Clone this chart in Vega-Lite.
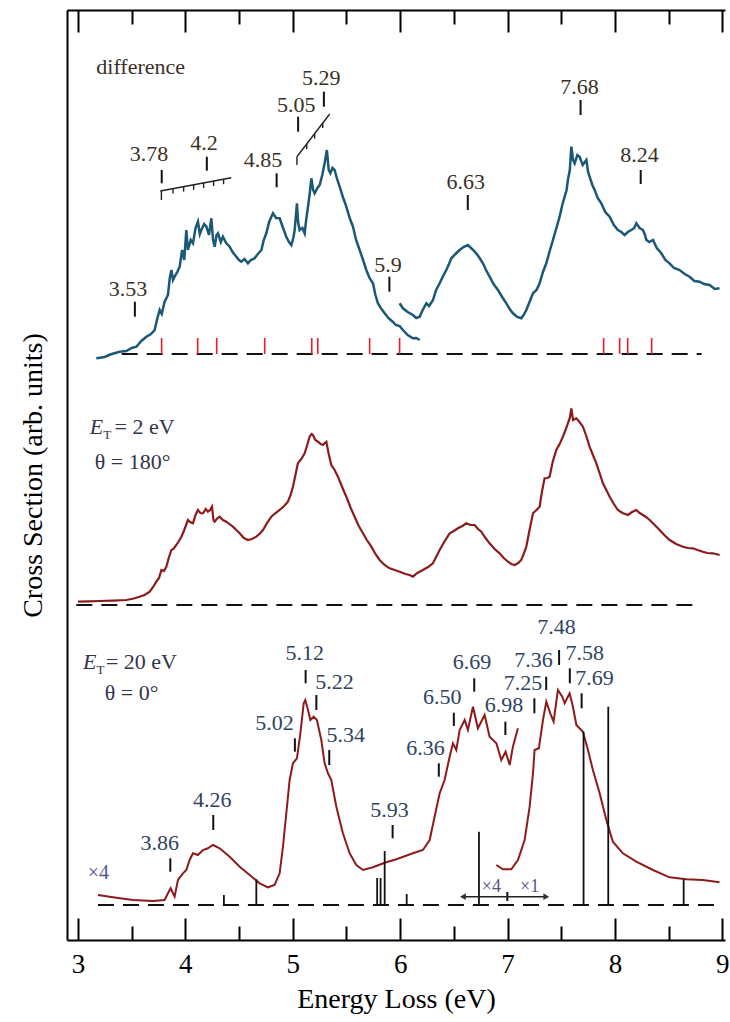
{
  "$schema": "https://vega.github.io/schema/vega-lite/v6.json",
  "width": 658,
  "height": 930,
  "autosize": "none",
  "padding": {"left": 67, "top": 10, "right": 5, "bottom": 82},
  "config": {"view": {"stroke": null}, "font": "'Liberation Serif', 'DejaVu Serif', serif"},
  "datasets": {
    "diff1": [
      {"x":3.171,"y":581.7},{"x":3.25,"y":583},{"x":3.30,"y":585.5},{"x":3.388,"y":588.3},{"x":3.45,"y":589},{"x":3.50,"y":592},{"x":3.544,"y":593.3},{"x":3.59,"y":599},{"x":3.637,"y":603.3},{"x":3.68,"y":606},{"x":3.714,"y":610},{"x":3.74,"y":622},{"x":3.761,"y":630},{"x":3.78,"y":626},{"x":3.807,"y":638.3},{"x":3.838,"y":645},{"x":3.855,"y":662},{"x":3.870,"y":670},{"x":3.885,"y":660},{"x":3.900,"y":663.3},{"x":3.925,"y":668},{"x":3.947,"y":673.3},{"x":3.97,"y":690},{"x":3.99,"y":680},{"x":4.009,"y":710},{"x":4.024,"y":690},{"x":4.05,"y":700},{"x":4.071,"y":696.7},{"x":4.095,"y":712},{"x":4.117,"y":718.3},{"x":4.135,"y":706},{"x":4.149,"y":710},{"x":4.175,"y":716},{"x":4.196,"y":713.3},{"x":4.22,"y":705},{"x":4.242,"y":721.7},{"x":4.258,"y":700},{"x":4.273,"y":693.3},{"x":4.29,"y":705},{"x":4.304,"y":706.7},{"x":4.33,"y":698},{"x":4.350,"y":703.3},{"x":4.38,"y":697},{"x":4.413,"y":693.3},{"x":4.44,"y":688},{"x":4.475,"y":683.3},{"x":4.50,"y":680},{"x":4.521,"y":678.3},{"x":4.55,"y":681},{"x":4.583,"y":676.7},{"x":4.61,"y":680},{"x":4.645,"y":681.7},{"x":4.675,"y":686},{"x":4.708,"y":690},{"x":4.73,"y":700},{"x":4.754,"y":706.7},{"x":4.78,"y":718},{"x":4.816,"y":726.7},{"x":4.845,"y":722},{"x":4.878,"y":721.7},{"x":4.91,"y":712},{"x":4.940,"y":703.3},{"x":4.965,"y":698},{"x":4.987,"y":695},{"x":5.005,"y":702},{"x":5.018,"y":710},{"x":5.03,"y":725},{"x":5.039,"y":736.7},{"x":5.05,"y":718},{"x":5.064,"y":710},{"x":5.09,"y":712},{"x":5.111,"y":706.7},{"x":5.125,"y":720},{"x":5.142,"y":733.3},{"x":5.16,"y":748},{"x":5.173,"y":761.7},{"x":5.19,"y":750},{"x":5.204,"y":746.7},{"x":5.23,"y":752},{"x":5.251,"y":755},{"x":5.275,"y":765},{"x":5.297,"y":776.7},{"x":5.318,"y":790},{"x":5.335,"y":770},{"x":5.350,"y":766.7},{"x":5.37,"y":772},{"x":5.390,"y":770},{"x":5.41,"y":762},{"x":5.437,"y":753.3},{"x":5.47,"y":742},{"x":5.499,"y":733.3},{"x":5.53,"y":722},{"x":5.561,"y":713.3},{"x":5.59,"y":700},{"x":5.623,"y":690},{"x":5.655,"y":680},{"x":5.685,"y":670},{"x":5.715,"y":662},{"x":5.747,"y":656.7},{"x":5.77,"y":645},{"x":5.793,"y":636.7},{"x":5.82,"y":632},{"x":5.856,"y":626.7},{"x":5.89,"y":622},{"x":5.933,"y":618},{"x":5.96,"y":615},{"x":5.995,"y":614},{"x":6.026,"y":610},{"x":6.07,"y":605},{"x":6.119,"y":601.7},{"x":6.15,"y":602},{"x":6.182,"y":600}
    ],
    "diff2": [
      {"x":5.995,"y":636.7},{"x":6.026,"y":631.7},{"x":6.07,"y":628},{"x":6.119,"y":625},{"x":6.15,"y":622},{"x":6.182,"y":623.3},{"x":6.21,"y":630},{"x":6.244,"y":636.7},{"x":6.27,"y":634},{"x":6.306,"y":640},{"x":6.335,"y":650},{"x":6.368,"y":656.7},{"x":6.40,"y":664},{"x":6.430,"y":670},{"x":6.455,"y":676},{"x":6.477,"y":681.7},{"x":6.515,"y":686},{"x":6.554,"y":690},{"x":6.59,"y":693},{"x":6.631,"y":695},{"x":6.67,"y":691},{"x":6.709,"y":686.7},{"x":6.74,"y":682},{"x":6.771,"y":676.7},{"x":6.80,"y":670},{"x":6.833,"y":663.3},{"x":6.87,"y":656},{"x":6.911,"y":650},{"x":6.95,"y":643},{"x":6.989,"y":636.7},{"x":7.02,"y":631},{"x":7.050,"y":626.7},{"x":7.09,"y":623},{"x":7.128,"y":621.7},{"x":7.15,"y":625},{"x":7.175,"y":630},{"x":7.205,"y":638},{"x":7.237,"y":646.7},{"x":7.27,"y":650},{"x":7.299,"y":656.7},{"x":7.33,"y":668},{"x":7.361,"y":676.7},{"x":7.39,"y":688},{"x":7.423,"y":700},{"x":7.455,"y":712},{"x":7.485,"y":723.3},{"x":7.51,"y":735},{"x":7.532,"y":743.3},{"x":7.55,"y":750},{"x":7.562,"y":760},{"x":7.58,"y":770},{"x":7.594,"y":793.3},{"x":7.61,"y":780},{"x":7.625,"y":776.7},{"x":7.65,"y":785},{"x":7.671,"y":783.3},{"x":7.70,"y":775},{"x":7.734,"y":780},{"x":7.75,"y":768},{"x":7.764,"y":763.3},{"x":7.79,"y":755},{"x":7.811,"y":750},{"x":7.84,"y":742},{"x":7.873,"y":736.7},{"x":7.91,"y":728},{"x":7.951,"y":723.3},{"x":7.99,"y":715},{"x":8.028,"y":710},{"x":8.06,"y":708},{"x":8.090,"y":705},{"x":8.12,"y":708},{"x":8.153,"y":710},{"x":8.18,"y":712},{"x":8.199,"y":716.7},{"x":8.23,"y":712},{"x":8.261,"y":710},{"x":8.28,"y":705},{"x":8.293,"y":700},{"x":8.32,"y":698},{"x":8.354,"y":700},{"x":8.39,"y":692},{"x":8.432,"y":686.7},{"x":8.47,"y":680},{"x":8.509,"y":676.7},{"x":8.55,"y":672},{"x":8.602,"y":670},{"x":8.65,"y":666},{"x":8.695,"y":663.3},{"x":8.74,"y":659},{"x":8.788,"y":658.3},{"x":8.83,"y":656},{"x":8.881,"y":655},{"x":8.93,"y":651},{"x":8.974,"y":651.7}
    ],
    "mid": [
      {"x":3.000,"y":338.3},{"x":3.10,"y":338.6},{"x":3.202,"y":339},{"x":3.33,"y":339.4},{"x":3.451,"y":340},{"x":3.52,"y":341.5},{"x":3.574,"y":343.3},{"x":3.62,"y":345},{"x":3.668,"y":348.3},{"x":3.70,"y":353},{"x":3.730,"y":358.3},{"x":3.755,"y":362},{"x":3.777,"y":370},{"x":3.80,"y":369},{"x":3.823,"y":373.3},{"x":3.845,"y":382},{"x":3.870,"y":390},{"x":3.89,"y":391},{"x":3.916,"y":395},{"x":3.94,"y":399},{"x":3.963,"y":403.3},{"x":3.99,"y":410},{"x":4.024,"y":420},{"x":4.045,"y":418},{"x":4.071,"y":416.7},{"x":4.095,"y":425},{"x":4.117,"y":430},{"x":4.14,"y":427},{"x":4.164,"y":426.7},{"x":4.19,"y":431},{"x":4.210,"y":428.3},{"x":4.23,"y":430},{"x":4.248,"y":433.3},{"x":4.262,"y":420},{"x":4.273,"y":418.3},{"x":4.30,"y":422},{"x":4.319,"y":423.3},{"x":4.35,"y":420},{"x":4.382,"y":418.3},{"x":4.41,"y":416},{"x":4.443,"y":413.3},{"x":4.475,"y":410},{"x":4.506,"y":406.7},{"x":4.545,"y":402},{"x":4.583,"y":400},{"x":4.62,"y":401},{"x":4.661,"y":403.3},{"x":4.69,"y":406},{"x":4.723,"y":410},{"x":4.76,"y":417},{"x":4.801,"y":423.3},{"x":4.84,"y":427},{"x":4.878,"y":430},{"x":4.92,"y":434},{"x":4.955,"y":438.3},{"x":4.98,"y":445},{"x":5.002,"y":453.3},{"x":5.025,"y":465},{"x":5.048,"y":476.7},{"x":5.08,"y":481},{"x":5.111,"y":486.7},{"x":5.135,"y":495},{"x":5.157,"y":503.3},{"x":5.175,"y":506},{"x":5.188,"y":505},{"x":5.21,"y":500},{"x":5.235,"y":498.3},{"x":5.26,"y":496},{"x":5.281,"y":495},{"x":5.298,"y":497},{"x":5.313,"y":498.3},{"x":5.335,"y":486},{"x":5.359,"y":475},{"x":5.39,"y":470},{"x":5.421,"y":463.3},{"x":5.46,"y":453},{"x":5.499,"y":443.3},{"x":5.54,"y":432},{"x":5.576,"y":423.3},{"x":5.615,"y":414},{"x":5.654,"y":406.7},{"x":5.69,"y":400},{"x":5.732,"y":393.3},{"x":5.77,"y":386},{"x":5.809,"y":380},{"x":5.855,"y":375},{"x":5.902,"y":371.7},{"x":5.95,"y":370},{"x":5.995,"y":368.3},{"x":6.05,"y":366},{"x":6.088,"y":365},{"x":6.119,"y":363.3},{"x":6.16,"y":367},{"x":6.212,"y":370},{"x":6.26,"y":373},{"x":6.305,"y":376.7},{"x":6.335,"y":383},{"x":6.368,"y":390},{"x":6.41,"y":398},{"x":6.461,"y":406.7},{"x":6.50,"y":409},{"x":6.538,"y":411.7},{"x":6.58,"y":414},{"x":6.616,"y":416.7},{"x":6.655,"y":415},{"x":6.694,"y":415},{"x":6.725,"y":411},{"x":6.756,"y":408.3},{"x":6.795,"y":402},{"x":6.833,"y":396.7},{"x":6.88,"y":391},{"x":6.926,"y":386.7},{"x":6.965,"y":382},{"x":7.004,"y":378.3},{"x":7.035,"y":376},{"x":7.066,"y":375},{"x":7.10,"y":377},{"x":7.128,"y":380},{"x":7.15,"y":386},{"x":7.175,"y":393.3},{"x":7.205,"y":410},{"x":7.237,"y":426.7},{"x":7.27,"y":430},{"x":7.299,"y":433.3},{"x":7.32,"y":448},{"x":7.345,"y":461.7},{"x":7.37,"y":462},{"x":7.392,"y":463.3},{"x":7.42,"y":478},{"x":7.454,"y":490},{"x":7.49,"y":497},{"x":7.516,"y":503.3},{"x":7.54,"y":510},{"x":7.562,"y":516.7},{"x":7.58,"y":522},{"x":7.594,"y":531.7},{"x":7.61,"y":520},{"x":7.640,"y":521.7},{"x":7.67,"y":518},{"x":7.702,"y":513.3},{"x":7.73,"y":505},{"x":7.764,"y":493.3},{"x":7.795,"y":485},{"x":7.827,"y":476.7},{"x":7.86,"y":466},{"x":7.888,"y":456.7},{"x":7.92,"y":450},{"x":7.951,"y":443.3},{"x":7.99,"y":436},{"x":8.028,"y":430},{"x":8.07,"y":427},{"x":8.121,"y":425},{"x":8.16,"y":428},{"x":8.199,"y":430},{"x":8.23,"y":427},{"x":8.261,"y":425},{"x":8.29,"y":423},{"x":8.323,"y":420},{"x":8.37,"y":415},{"x":8.416,"y":410},{"x":8.46,"y":405},{"x":8.509,"y":400},{"x":8.57,"y":396},{"x":8.633,"y":393.3},{"x":8.68,"y":392},{"x":8.726,"y":391.7},{"x":8.77,"y":390},{"x":8.819,"y":388.3},{"x":8.86,"y":387},{"x":8.912,"y":386.7},{"x":8.975,"y":385}
    ],
    "low1": [
      {"x":3.186,"y":45},{"x":3.326,"y":42.7},{"x":3.512,"y":40},{"x":3.698,"y":39},{"x":3.807,"y":40},{"x":3.838,"y":46.7},{"x":3.863,"y":51.7},{"x":3.900,"y":43.3},{"x":3.931,"y":60},{"x":3.978,"y":66.7},{"x":4.009,"y":70},{"x":4.040,"y":80},{"x":4.071,"y":86.7},{"x":4.117,"y":85},{"x":4.164,"y":90},{"x":4.210,"y":91.7},{"x":4.257,"y":95},{"x":4.319,"y":91.7},{"x":4.413,"y":83.3},{"x":4.506,"y":73.3},{"x":4.599,"y":65},{"x":4.692,"y":56.7},{"x":4.769,"y":52.7},{"x":4.831,"y":55},{"x":4.878,"y":66.7},{"x":4.909,"y":93.3},{"x":4.940,"y":126.7},{"x":4.971,"y":160},{"x":5.002,"y":176.7},{"x":5.039,"y":181.7},{"x":5.071,"y":206.7},{"x":5.102,"y":236.7},{"x":5.117,"y":240},{"x":5.142,"y":230},{"x":5.164,"y":220},{"x":5.195,"y":223.3},{"x":5.225,"y":220},{"x":5.266,"y":200},{"x":5.297,"y":176.7},{"x":5.328,"y":166.7},{"x":5.359,"y":160},{"x":5.406,"y":133.3},{"x":5.467,"y":106.7},{"x":5.530,"y":86.7},{"x":5.592,"y":75},{"x":5.654,"y":70},{"x":5.747,"y":72.7},{"x":5.856,"y":77.3},{"x":5.965,"y":80.7},{"x":6.119,"y":86.7},{"x":6.212,"y":90},{"x":6.275,"y":100},{"x":6.321,"y":123.3},{"x":6.368,"y":146.7},{"x":6.414,"y":160},{"x":6.461,"y":183.3},{"x":6.492,"y":196.7},{"x":6.523,"y":190},{"x":6.554,"y":210},{"x":6.601,"y":220},{"x":6.631,"y":210},{"x":6.678,"y":233.3},{"x":6.724,"y":211.7},{"x":6.787,"y":225},{"x":6.833,"y":203.3},{"x":6.896,"y":196.7},{"x":6.942,"y":180},{"x":6.982,"y":188.3},{"x":7.020,"y":175},{"x":7.050,"y":193.3},{"x":7.097,"y":211.7}
    ],
    "low2": [
      {"x":6.896,"y":75},{"x":6.957,"y":70.7},{"x":7.035,"y":70.7},{"x":7.097,"y":80},{"x":7.159,"y":100},{"x":7.206,"y":133.3},{"x":7.237,"y":166.7},{"x":7.252,"y":190},{"x":7.292,"y":191.7},{"x":7.330,"y":220},{"x":7.361,"y":238.3},{"x":7.398,"y":226.7},{"x":7.429,"y":218.3},{"x":7.469,"y":250},{"x":7.510,"y":243.3},{"x":7.532,"y":236.7},{"x":7.578,"y":246.7},{"x":7.609,"y":233.3},{"x":7.641,"y":215},{"x":7.702,"y":208.3},{"x":7.749,"y":190},{"x":7.795,"y":170},{"x":7.858,"y":146.7},{"x":7.920,"y":120},{"x":7.981,"y":98.3},{"x":8.074,"y":86.7},{"x":8.199,"y":78.3},{"x":8.354,"y":70},{"x":8.509,"y":62.7},{"x":8.665,"y":60.7},{"x":8.819,"y":60},{"x":8.974,"y":57.7}
    ],
    "baselines": [
      {"x":3.407,"x2":8.807,"y":586},
      {"x":2.985,"x2":8.804,"y":335},
      {"x":3.186,"x2":9.006,"y":35}
    ],
    "redsticks": [
      {"x":3.779,"y":586,"y2":602},{"x":4.115,"y":586,"y2":602},{"x":4.292,"y":586,"y2":602},{"x":4.739,"y":586,"y2":602},{"x":5.177,"y":586,"y2":602},{"x":5.233,"y":586,"y2":602},{"x":5.716,"y":586,"y2":602},{"x":5.995,"y":586,"y2":602},{"x":7.895,"y":586,"y2":602},{"x":8.044,"y":586,"y2":602},{"x":8.119,"y":586,"y2":602},{"x":8.342,"y":586,"y2":602}
    ],
    "blacksticks": [
      {"x":4.359,"y":35,"y2":45},{"x":4.661,"y":35,"y2":60.7},{"x":5.786,"y":35,"y2":62},{"x":5.818,"y":35,"y2":62},{"x":5.856,"y":35,"y2":89},{"x":6.061,"y":35,"y2":46},{"x":6.734,"y":35,"y2":108.3},{"x":7.708,"y":35,"y2":208.3},{"x":7.938,"y":35,"y2":233.3},{"x":8.640,"y":35,"y2":60.7}
    ],
    "lblticks": [
      {"x":3.53,"y":623.3,"y2":638.3},{"x":3.78,"y":756.7,"y2":770},{"x":4.2,"y":769.3,"y2":783.3},{"x":4.85,"y":752.7,"y2":766.7},{"x":5.05,"y":808.3,"y2":823.3},{"x":5.29,"y":833.3,"y2":848.3},{"x":5.9,"y":648.3,"y2":663.3},{"x":6.63,"y":730,"y2":745},{"x":7.68,"y":825,"y2":840},{"x":8.24,"y":756,"y2":770},
      {"x":3.86,"y":68.3,"y2":81.7},{"x":4.26,"y":110,"y2":125},{"x":5.02,"y":188.3,"y2":201.7},{"x":5.12,"y":256.7,"y2":270},{"x":5.22,"y":230,"y2":245},{"x":5.34,"y":175,"y2":190},{"x":5.93,"y":101.7,"y2":115},{"x":6.36,"y":163.3,"y2":176.7},{"x":6.50,"y":214,"y2":227.3},{"x":6.69,"y":248.3,"y2":261.7},{"x":6.98,"y":205,"y2":218.3},{"x":7.25,"y":226.7,"y2":241.7},{"x":7.36,"y":250,"y2":263.3},{"x":7.48,"y":275,"y2":290},{"x":7.58,"y":256.7,"y2":271.7},{"x":7.69,"y":231.7,"y2":246.7},
      {"x":6.998,"y":39,"y2":48}
    ],
    "combs": [
      {"x":3.767,"x2":4.428,"y":749,"y2":762.3},
      {"x":3.777,"x2":3.777,"y":749.2,"y2":740},
      {"x":3.885,"x2":3.885,"y":751.4,"y2":746.4},
      {"x":3.984,"x2":3.984,"y":753.4,"y2":748.4},
      {"x":4.077,"x2":4.077,"y":755.2,"y2":750.2},
      {"x":4.170,"x2":4.170,"y":757.1,"y2":752.1},
      {"x":4.263,"x2":4.263,"y":759,"y2":754},
      {"x":4.356,"x2":4.356,"y":760.8,"y2":755.8},
      {"x":5.039,"x2":5.344,"y":783.3,"y2":826},
      {"x":5.039,"x2":5.039,"y":783.3,"y2":775},
      {"x":5.130,"x2":5.130,"y":796,"y2":791},
      {"x":5.204,"x2":5.204,"y":806.4,"y2":801.4},
      {"x":5.279,"x2":5.279,"y":816.9,"y2":811.9},
      {"x":6.57,"x2":7.376,"y":43.3,"y2":43.3}
    ],
    "arrowheads": [
      {"x":6.585,"y":43.3,"dir":"left"},{"x":7.361,"y":43.3,"dir":"right"}
    ],
    "toplabels": [
      {"x":3.466,"y":650.7,"text":"3.53"},{"x":3.661,"y":786,"text":"3.78"},{"x":4.173,"y":796.7,"text":"4.2"},{"x":4.723,"y":780,"text":"4.85"},{"x":5.033,"y":835,"text":"5.05"},{"x":5.266,"y":861.7,"text":"5.29"},{"x":5.886,"y":675,"text":"5.9"},{"x":6.610,"y":758.3,"text":"6.63"},{"x":7.671,"y":853.3,"text":"7.68"},{"x":8.230,"y":785,"text":"8.24"}
    ],
    "bottomlabels": [
      {"x":3.761,"y":96.7,"text":"3.86"},{"x":4.251,"y":140,"text":"4.26"},{"x":4.831,"y":216.7,"text":"5.02"},{"x":5.111,"y":286.7,"text":"5.12"},{"x":5.390,"y":258.3,"text":"5.22"},{"x":5.493,"y":205,"text":"5.34"},{"x":5.902,"y":130,"text":"5.93"},{"x":6.236,"y":191.7,"text":"6.36"},{"x":6.391,"y":243.3,"text":"6.50"},{"x":6.670,"y":278.3,"text":"6.69"},{"x":6.966,"y":235,"text":"6.98"},{"x":7.144,"y":256.7,"text":"7.25"},{"x":7.243,"y":280,"text":"7.36"},{"x":7.457,"y":313,"text":"7.48"},{"x":7.718,"y":286.7,"text":"7.58"},{"x":7.811,"y":261.7,"text":"7.69"}
    ],
    "legendE": [
      {"x":3.109,"y":513.3,"text":"E"},{"x":3.047,"y":278.3,"text":"E"}
    ],
    "legendSub": [
      {"x":3.235,"y":505,"text":"T"},{"x":3.172,"y":270,"text":"T"}
    ],
    "legendMain": [
      {"x":3.34,"y":513.3,"text":"= 2 eV"},{"x":3.156,"y":478.3,"text":"θ = 180°"},{"x":3.26,"y":278.3,"text":"= 20 eV"},{"x":3.249,"y":246.7,"text":"θ = 0°"}
    ],
    "difflabel": [{"x":3.171,"y":873.3,"text":"difference"}],
    "scaleLeft": [{"x":3.091,"y":67,"text":"×4"}],
    "scaleArrow": [{"x":6.849,"y":53,"text":"×4"},{"x":7.206,"y":53,"text":"×1"}]
  },
  "encoding": {
    "x": {"field": "x", "type": "quantitative", "scale": {"domain": [2.898, 9.025], "nice": false, "zero": false}, "axis": null},
    "y": {"field": "y", "type": "quantitative", "scale": {"domain": [0, 930], "nice": false, "zero": false},
      "axis": {"orient": "left", "ticks": false, "labels": false, "grid": false, "domain": true, "domainColor": "black", "domainWidth": 2,
        "title": "Cross Section (arb. units)", "titleFont": "'Liberation Serif', 'DejaVu Serif', serif", "titleFontSize": 28, "titleFontWeight": "normal", "titleColor": "black", "titlePadding": 20}}
  },
  "resolve": {"axis": {"x": "independent"}},
  "layer": [
    {"data": {"name": "diff1"}, "mark": {"type": "line", "color": "#1b5877", "strokeWidth": 2.5},
      "encoding": {"x": {"field": "x", "type": "quantitative", "scale": {"domain": [2.898, 9.025], "nice": false, "zero": false},
        "axis": {"orient": "bottom", "values": [3,4,5,6,7,8,9], "format": "d", "tickSize": -22, "tickWidth": 2, "tickColor": "black", "domainColor": "black", "domainWidth": 2, "grid": false,
          "labelFont": "'Liberation Serif', 'DejaVu Serif', serif", "labelFontSize": 27, "labelColor": "black", "labelPadding": 33, "labelFlush": false,
          "title": "Energy Loss (eV)", "titleFont": "'Liberation Serif', 'DejaVu Serif', serif", "titleFontSize": 28, "titleFontWeight": "normal", "titleColor": "black", "titlePadding": 8}}}},
    {"data": {"name": "diff2"}, "mark": {"type": "line", "color": "#1b5877", "strokeWidth": 2.5},
      "encoding": {"x": {"field": "x", "type": "quantitative", "scale": {"domain": [2.898, 9.025], "nice": false, "zero": false},
        "axis": {"orient": "bottom", "values": [3.5,4.5,5.5,6.5,7.5,8.5], "tickSize": -14, "tickWidth": 2, "tickColor": "black", "labels": false, "domain": false, "grid": false, "title": null}}}},
    {"data": {"name": "mid"}, "mark": {"type": "line", "color": "#8e1b1b", "strokeWidth": 2.2},
      "encoding": {"x": {"field": "x", "type": "quantitative", "scale": {"domain": [2.898, 9.025], "nice": false, "zero": false},
        "axis": {"orient": "top", "values": [3,4,5,6,7,8,9], "tickSize": -22, "tickWidth": 2, "tickColor": "black", "labels": false, "domain": true, "domainColor": "black", "domainWidth": 2, "grid": false, "title": null}}}},
    {"data": {"name": "low1"}, "mark": {"type": "line", "color": "#8e1b1b", "strokeWidth": 2},
      "encoding": {"x": {"field": "x", "type": "quantitative", "scale": {"domain": [2.898, 9.025], "nice": false, "zero": false},
        "axis": {"orient": "top", "values": [3.5,4.5,5.5,6.5,7.5,8.5], "tickSize": -14, "tickWidth": 2, "tickColor": "black", "labels": false, "domain": false, "grid": false, "title": null}}}},
    {"data": {"name": "low2"}, "mark": {"type": "line", "color": "#8e1b1b", "strokeWidth": 2}, "encoding": {}},
    {"data": {"name": "baselines"}, "mark": {"type": "rule", "color": "#111", "strokeWidth": 2, "strokeDash": [16, 9]},
      "encoding": {"x2": {"field": "x2"}}},
    {"data": {"name": "redsticks"}, "mark": {"type": "rule", "color": "#ee1c24", "strokeWidth": 1.6},
      "encoding": {"y2": {"field": "y2"}}},
    {"data": {"name": "blacksticks"}, "mark": {"type": "rule", "color": "#111", "strokeWidth": 1.8},
      "encoding": {"y2": {"field": "y2"}}},
    {"data": {"name": "lblticks"}, "mark": {"type": "rule", "color": "#111", "strokeWidth": 2},
      "encoding": {"y2": {"field": "y2"}}},
    {"data": {"name": "combs"}, "mark": {"type": "rule", "color": "#222", "strokeWidth": 1.4},
      "encoding": {"x2": {"field": "x2"}, "y2": {"field": "y2"}}},
    {"data": {"name": "arrowheads"}, "mark": {"type": "point", "filled": true, "color": "#333", "size": 45, "opacity": 1},
      "encoding": {"shape": {"field": "dir", "type": "nominal", "scale": {"domain": ["left", "right"], "range": ["triangle-left", "triangle-right"]}, "legend": null}}},
    {"data": {"name": "toplabels"}, "mark": {"type": "text", "font": "'Liberation Serif', 'DejaVu Serif', serif", "fontSize": 22, "color": "#3a3025", "align": "center", "baseline": "middle"},
      "encoding": {"text": {"field": "text"}}},
    {"data": {"name": "bottomlabels"}, "mark": {"type": "text", "font": "'Liberation Serif', 'DejaVu Serif', serif", "fontSize": 22, "color": "#2e4460", "align": "center", "baseline": "middle"},
      "encoding": {"text": {"field": "text"}}},
    {"data": {"name": "difflabel"}, "mark": {"type": "text", "font": "'Liberation Serif', 'DejaVu Serif', serif", "fontSize": 22, "color": "#3a3025", "align": "left", "baseline": "middle"},
      "encoding": {"text": {"field": "text"}}},
    {"data": {"name": "legendE"}, "mark": {"type": "text", "font": "'Liberation Serif', 'DejaVu Serif', serif", "fontSize": 22, "fontStyle": "italic", "color": "#33334a", "align": "left", "baseline": "middle"},
      "encoding": {"text": {"field": "text"}}},
    {"data": {"name": "legendSub"}, "mark": {"type": "text", "font": "'Liberation Serif', 'DejaVu Serif', serif", "fontSize": 13, "color": "#33334a", "align": "left", "baseline": "middle"},
      "encoding": {"text": {"field": "text"}}},
    {"data": {"name": "legendMain"}, "mark": {"type": "text", "font": "'Liberation Serif', 'DejaVu Serif', serif", "fontSize": 22, "color": "#33334a", "align": "left", "baseline": "middle"},
      "encoding": {"text": {"field": "text"}}},
    {"data": {"name": "scaleLeft"}, "mark": {"type": "text", "font": "'Liberation Serif', 'DejaVu Serif', serif", "fontSize": 20, "color": "#4f5a8a", "align": "left", "baseline": "middle"},
      "encoding": {"text": {"field": "text"}}},
    {"data": {"name": "scaleArrow"}, "mark": {"type": "text", "font": "'Liberation Serif', 'DejaVu Serif', serif", "fontSize": 18, "color": "#5a4f8e", "align": "center", "baseline": "middle"},
      "encoding": {"text": {"field": "text"}}}
  ]
}
